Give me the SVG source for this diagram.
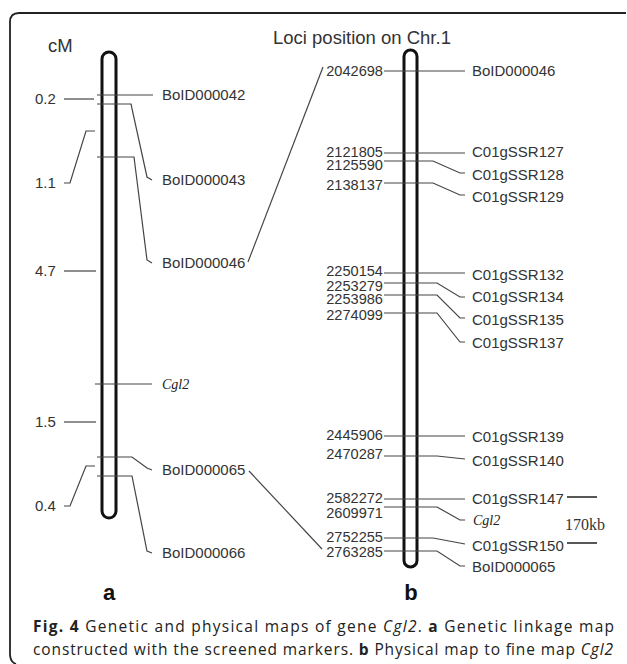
<svg xmlns="http://www.w3.org/2000/svg" width="627" height="664" viewBox="0 0 627 664">
<style>
.t{font-family:"Liberation Sans",Arial,sans-serif;font-size:15px;fill:#333}
.n{font-family:"Liberation Sans",Arial,sans-serif;font-size:14.6px;fill:#333;text-anchor:end}
.h{font-family:"Liberation Sans",Arial,sans-serif;font-size:18.5px;fill:#333}
.it{font-family:"Liberation Serif","Times New Roman",serif;font-style:italic;font-size:14px;fill:#222}
.sr{font-family:"Liberation Serif","Times New Roman",serif;font-size:16px;fill:#333}
.lb{font-family:"Liberation Sans",Arial,sans-serif;font-weight:bold;font-size:22px;fill:#111;text-anchor:middle}
.cap{font-family:"Open Sans","Noto Sans",sans-serif;font-size:15.5px;fill:#222}
.ln{fill:none;stroke:#444;stroke-width:1.2}
.chr{fill:#fff;stroke:#111;stroke-width:3}
</style>
<rect width="627" height="664" fill="#fff"/>
<path d="M626,13 H19 Q10,13 10,22 V654 Q10,662 16,664" fill="none" stroke="#222" stroke-width="1.8"/>

<g id="chromosome-a"><rect class="chr" x="102" y="52" width="14" height="466" rx="7"/></g>
<g id="chromosome-b"><rect class="chr" x="404" y="50" width="13" height="517" rx="6.5"/></g>

<g id="connectors">
<path class="ln" d="M97,95 H153"/>
<path class="ln" d="M97,104 H131 L147,177 L152,180"/>
<path class="ln" d="M97,157 H134 L147,260 L152,263"/>
<path class="ln" d="M95,384 H152"/>
<path class="ln" d="M97,457 H132 L147,468 L152,470"/>
<path class="ln" d="M97,476 H132 L147,551 L152,553"/>
<path class="ln" d="M64,99 H94"/>
<path class="ln" d="M64,183 H70 L86,131 H95"/>
<path class="ln" d="M64,271 H96"/>
<path class="ln" d="M64,422 H96"/>
<path class="ln" d="M64,506 H70 L86,466 H95"/>
<path class="ln" d="M248,262 L323,67"/>
<path class="ln" d="M249,471 L322,549"/>
<path class="ln" d="M384,71 H465"/>
<path class="ln" d="M384,153 H465"/>
<path class="ln" d="M384,161 H433 L460,173 H465"/>
<path class="ln" d="M384,183 H433 L460,195 H465"/>
<path class="ln" d="M384,273 H465"/>
<path class="ln" d="M384,283 H437 L460,297 H465"/>
<path class="ln" d="M384,295 H437 L460,318 H465"/>
<path class="ln" d="M384,313 H437 L460,342 H465"/>
<path class="ln" d="M384,436 H465"/>
<path class="ln" d="M384,456 H437 L465,459"/>
<path class="ln" d="M384,499 H465"/>
<path class="ln" d="M384,507 H437 L460,520 H465"/>
<path class="ln" d="M384,538 H433 L465,544"/>
<path class="ln" d="M384,551 H437 L460,566 H465"/>
<path d="M567,497 H597 M567,543 H597" fill="none" stroke="#222" stroke-width="1.6"/>
</g>

<g id="labels-a">
<text class="h" x="48" y="52">cM</text>
<text class="t" x="35" y="104">0.2</text>
<text class="t" x="35" y="188">1.1</text>
<text class="t" x="35" y="276">4.7</text>
<text class="t" x="35" y="427">1.5</text>
<text class="t" x="35" y="511">0.4</text>
<text class="t" x="162" y="100">BoID000042</text>
<text class="t" x="162" y="185">BoID000043</text>
<text class="t" x="162" y="268">BoID000046</text>
<text class="it" x="162" y="389">Cgl2</text>
<text class="t" x="162" y="475">BoID000065</text>
<text class="t" x="162" y="558">BoID000066</text>
<text class="lb" x="109" y="600">a</text>
</g>

<g id="labels-b">
<text class="h" x="273" y="44">Loci position on Chr.1</text>
<text class="n" x="383" y="76">2042698</text>
<text class="n" x="383" y="157">2121805</text>
<text class="n" x="383" y="170">2125590</text>
<text class="n" x="383" y="190">2138137</text>
<text class="n" x="383" y="276">2250154</text>
<text class="n" x="383" y="291">2253279</text>
<text class="n" x="383" y="304">2253986</text>
<text class="n" x="383" y="320">2274099</text>
<text class="n" x="383" y="440">2445906</text>
<text class="n" x="383" y="459">2470287</text>
<text class="n" x="383" y="503">2582272</text>
<text class="n" x="383" y="518">2609971</text>
<text class="n" x="383" y="542">2752255</text>
<text class="n" x="383" y="557">2763285</text>
<text class="t" x="472" y="76">BoID000046</text>
<text class="t" x="472" y="157">C01gSSR127</text>
<text class="t" x="472" y="180">C01gSSR128</text>
<text class="t" x="472" y="202">C01gSSR129</text>
<text class="t" x="472" y="280">C01gSSR132</text>
<text class="t" x="472" y="302">C01gSSR134</text>
<text class="t" x="472" y="325">C01gSSR135</text>
<text class="t" x="472" y="348">C01gSSR137</text>
<text class="t" x="472" y="442">C01gSSR139</text>
<text class="t" x="472" y="466">C01gSSR140</text>
<text class="t" x="472" y="504">C01gSSR147</text>
<text class="it" x="473" y="525">Cgl2</text>
<text class="sr" x="565" y="530">170kb</text>
<text class="t" x="472" y="551">C01gSSR150</text>
<text class="t" x="472" y="572">BoID000065</text>
<text class="lb" x="411" y="600">b</text>
</g>

<g id="caption">
<text class="cap" x="33" y="632" textLength="581" lengthAdjust="spacing"><tspan font-weight="bold">Fig. 4</tspan> Genetic and physical maps of gene <tspan font-style="italic">Cgl2</tspan>. <tspan font-weight="bold">a</tspan> Genetic linkage map</text>
<text class="cap" x="33" y="655" textLength="580" lengthAdjust="spacing">constructed with the screened markers. <tspan font-weight="bold">b</tspan> Physical map to fine map <tspan font-style="italic">Cgl2</tspan></text>
</g>
</svg>
